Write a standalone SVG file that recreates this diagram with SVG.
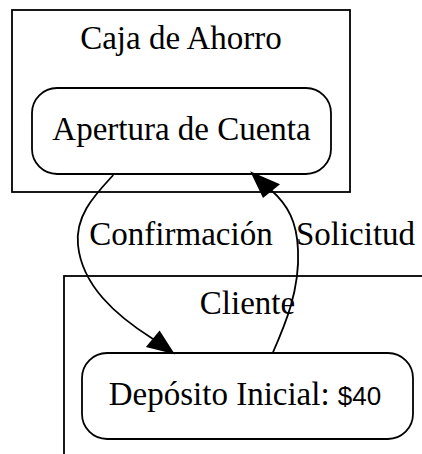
<svg xmlns="http://www.w3.org/2000/svg" width="422" height="454" viewBox="0 0 422 454">
<style>
.cl{fill:none;stroke:#000;stroke-width:1.8}
.nd{fill:#fff;stroke:#000;stroke-width:1.8}
.t{font-family:"Liberation Serif","Times New Roman",serif;font-size:33px;fill:#000;text-anchor:middle}
.s{font-family:"Liberation Sans",Arial,sans-serif;font-size:26px}
.e{fill:none;stroke:#000;stroke-width:1.8}
.ah{fill:#000;stroke:#000;stroke-width:1.8}
</style>
<rect width="422" height="454" fill="#fff"/>
<g id="cluster_caja">
<rect class="cl" x="12" y="10" width="338" height="182"/>
<text class="t" x="181" y="49">Caja de Ahorro</text>
</g>
<g id="cluster_cliente">
<rect class="cl" x="64" y="276" width="400" height="250"/>
<text class="t" x="247.5" y="314">Cliente</text>
</g>
<g id="apertura">
<rect class="nd" x="32" y="88" width="299" height="86" rx="25" ry="25"/>
<text class="t" x="181.5" y="140">Apertura de Cuenta</text>
</g>
<g id="deposito">
<rect class="nd" x="82" y="353" width="331" height="86" rx="25" ry="25"/>
<text class="t" x="245" y="405">Depósito Inicial: <tspan class="s">$40</tspan></text>
</g>
<g id="edges">
<path class="e" d="M113.3,175 C95,195 75,215 78,245 C82,285 115,315 153,339"/>
<polygon class="ah" points="173,353 147.5,346.5 159.5,332"/>
<text class="t" x="181" y="245">Confirmación</text>
<path class="e" d="M272.7,353 C285,325 300,290 298,250 C297,222 288,205 271,190"/>
<polygon class="ah" points="252,173 278.3,184.5 263.3,196.7"/>
<text class="t" x="355.5" y="245">Solicitud</text>
</g>
</svg>
